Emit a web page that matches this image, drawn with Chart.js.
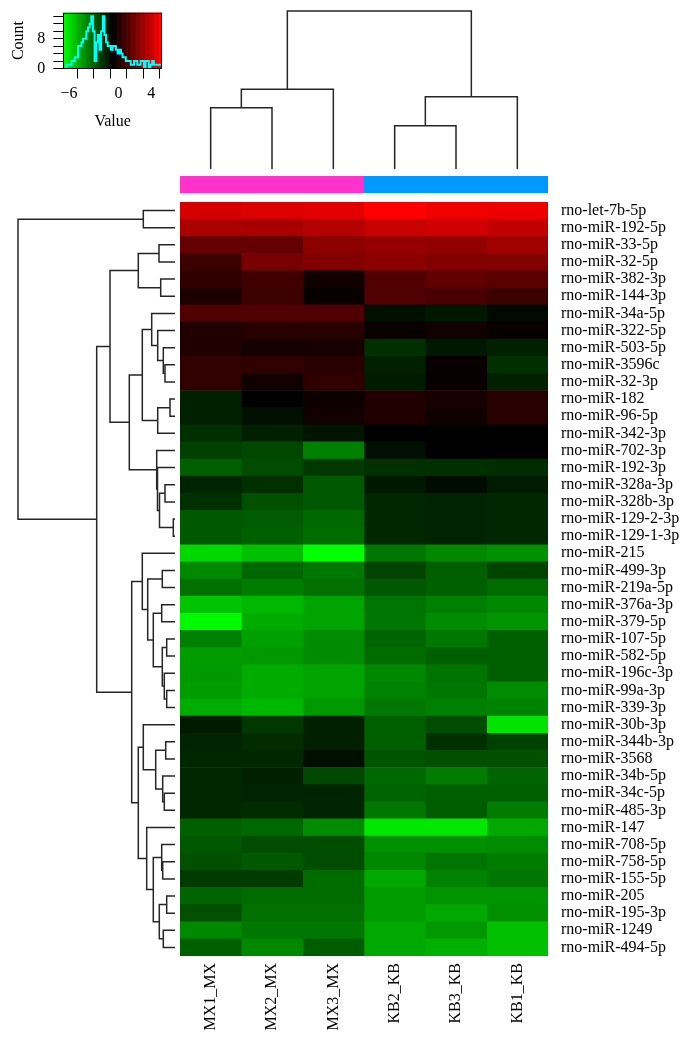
<!DOCTYPE html>
<html><head><meta charset="utf-8">
<script src="https://cdn.jsdelivr.net/npm/chart.js@4.4.1/dist/chart.umd.min.js"></script>
<style>
html,body{margin:0;padding:0;background:#fff;width:694px;height:1040px;overflow:hidden;}
body{position:relative;}
canvas{position:absolute;}
</style></head><body>
<canvas id="key" style="left:0px;top:0px" width="175" height="140"></canvas>
<canvas id="colDendro" style="left:180px;top:0px" width="368" height="176"></canvas>
<canvas id="colBar" style="left:180px;top:176px" width="368" height="17"></canvas>
<canvas id="rowDendro" style="left:0px;top:202px" width="180" height="754"></canvas>
<canvas id="heat" style="left:180px;top:202px" width="514" height="838"></canvas>
<script>
// ---------- data ----------
const columns = ['MX1_MX','MX2_MX','MX3_MX','KB2_KB','KB3_KB','KB1_KB'];
const columnGroups = ['MX','MX','MX','KB','KB','KB'];
const groupColors = {MX:'#FF33CC', KB:'#0099FF'};
const rowLabels = ['rno-let-7b-5p','rno-miR-192-5p','rno-miR-33-5p','rno-miR-32-5p','rno-miR-382-3p','rno-miR-144-3p','rno-miR-34a-5p','rno-miR-322-5p','rno-miR-503-5p','rno-miR-3596c','rno-miR-32-3p','rno-miR-182','rno-miR-96-5p','rno-miR-342-3p','rno-miR-702-3p','rno-miR-192-3p','rno-miR-328a-3p','rno-miR-328b-3p','rno-miR-129-2-3p','rno-miR-129-1-3p','rno-miR-215','rno-miR-499-3p','rno-miR-219a-5p','rno-miR-376a-3p','rno-miR-379-5p','rno-miR-107-5p','rno-miR-582-5p','rno-miR-196c-3p','rno-miR-99a-3p','rno-miR-339-3p','rno-miR-30b-3p','rno-miR-344b-3p','rno-miR-3568','rno-miR-34b-5p','rno-miR-34c-5p','rno-miR-485-3p','rno-miR-147','rno-miR-708-5p','rno-miR-758-5p','rno-miR-155-5p','rno-miR-205','rno-miR-195-3p','rno-miR-1249','rno-miR-494-5p'];

const MX1 = [4.36,3.30,1.65,0.71,0.43,-0.04,1.18,0.05,0.05,0.48,0.43,-1.45,-1.45,-1.83,-2.21,-2.96,-1.55,-1.83,-2.77,-2.77,-5.78,-3.90,-3.34,-5.31,-6.58,-3.71,-4.37,-4.28,-4.37,-4.75,-1.36,-1.55,-1.64,-1.64,-1.64,-1.64,-2.96,-2.77,-2.58,-2.11,-3.05,-2.58,-3.90,-2.96];
const MX2 = [4.48,3.25,1.65,2.12,0.80,0.71,1.18,0.24,-0.23,0.43,-0.32,-0.70,-1.08,-1.45,-2.39,-2.49,-1.83,-2.58,-2.86,-2.96,-5.22,-3.15,-3.62,-5.03,-4.75,-4.46,-4.28,-4.75,-4.75,-5.03,-2.02,-1.74,-1.64,-1.45,-1.55,-1.74,-3.15,-2.49,-2.77,-2.11,-3.24,-3.34,-3.52,-3.90];
const MX3 = [4.62,3.54,2.60,2.36,-0.32,-0.51,1.18,0.24,-0.14,0.24,0.43,-0.42,-0.32,-1.17,-3.71,-2.02,-2.77,-2.77,-3.15,-3.24,-6.70,-3.52,-3.34,-4.56,-4.56,-3.99,-3.99,-4.56,-4.56,-4.28,-1.45,-1.45,-1.08,-2.39,-1.55,-1.55,-3.99,-2.49,-2.49,-3.24,-3.24,-3.34,-3.52,-2.86];
const KB2 = [5.30,4.00,2.83,2.60,1.18,1.18,-1.08,-0.51,-1.83,-1.45,-1.36,0.05,0.05,-0.70,-1.08,-1.83,-1.26,-1.64,-1.64,-1.64,-3.52,-2.30,-2.77,-3.43,-3.52,-3.05,-3.24,-3.90,-3.80,-3.52,-2.96,-2.96,-2.68,-3.15,-3.05,-3.52,-6.16,-4.09,-3.90,-4.65,-4.37,-4.37,-4.65,-4.65];
const KB3 = [4.95,4.20,2.74,2.36,1.56,1.00,-1.26,-0.32,-1.26,-0.51,-0.51,-0.14,-0.32,-0.70,-0.70,-1.83,-0.98,-1.55,-1.55,-1.55,-3.90,-2.96,-2.96,-3.71,-3.99,-3.52,-2.96,-3.43,-3.52,-3.71,-2.49,-1.83,-2.58,-3.62,-2.96,-2.86,-6.16,-4.09,-3.43,-3.80,-4.18,-4.65,-4.28,-4.84];
const KB1 = [4.90,3.90,3.06,2.36,1.42,0.71,-0.89,-0.51,-1.45,-1.83,-1.45,0.24,0.24,-0.70,-0.70,-1.74,-1.36,-1.64,-1.64,-1.64,-4.09,-2.30,-3.24,-3.90,-4.18,-2.96,-2.96,-2.96,-3.99,-3.80,-6.06,-2.21,-2.58,-3.05,-2.96,-3.62,-4.65,-3.99,-3.62,-3.52,-4.18,-4.09,-5.22,-5.22];
const columnValues = [MX1, MX2, MX3, KB2, KB3, KB1];

// column dendrogram merges (hclust style: negative = leaf, positive = earlier merge), height
const colMerges = [[-1,-2,61.3],[1,-3,79.7],[-4,-5,43.3],[3,-6,72.3],[2,4,158]];
// row dendrogram merges
const rowMerges = [
 [-1,-2,31.7],[-3,-4,16],[-5,-6,14.3],[2,3,36.7],[-10,-11,10],[-9,5,11.7],[-8,6,17.3],[-7,7,23.3],
 [-12,-13,5],[9,-14,17.3],[8,10,32.7],[-17,-18,10],[-19,-20,1.7],[12,13,15.5],[-16,14,17.5],[-15,15,18.3],
 [11,16,45.7],[4,17,65],[-22,-23,12.7],[-24,-25,13.3],[-26,-27,8.3],[-29,-30,8.3],[-28,22,10.7],[21,23,12.7],
 [20,24,21.7],[19,25,27.3],[-21,26,32.7],[-32,-33,9.3],[-35,-36,10.7],[-34,29,12.3],[28,30,19.3],[-31,31,31.7],
 [-39,-40,12.3],[-38,33,13.3],[-41,-42,8.3],[-43,-44,11.7],[35,36,15.7],[34,37,21.7],[-37,38,28.3],[32,39,36.7],
 [27,40,43.3],[18,41,78.3],[1,42,157]
];

// colour key
const keyMin = -6.7, keyMid = -0.7, keyMax = 5.3;
const keyTicks = [-6,-4,-2,0,2,4];
const keyTickLabels = {'-6':'\u22126','0':'0','4':'4'};
const countTicks = [0,2,4,6,8,10,12,14];
const countTickLabels = {'0':'0','8':'8'};
const histBinWidth = 0.2;
const histCounts = [0,0,1,1,1,2,2,3,3,6,6,7,8,8,10,11,12,14,10,2,7,9,5,10,14,9,7,6,6,5,6,6,5,4,5,4,3,3,2,2,2,1,1,2,2,1,1,2,2,0,2,2,0,1,2,1,1,1,1,1];

// ---------- helpers ----------
function valueColor(v){
  if (v <= keyMid){
    const t = Math.min(1, (keyMid - v)/(keyMid - keyMin));
    return 'rgb(0,' + Math.round(255*t) + ',0)';
  }
  const t = Math.min(1, (v - keyMid)/(keyMax - keyMid));
  return 'rgb(' + Math.round(255*t) + ',0,0)';
}
function dendroSegments(merges){
  const pos = [], hgt = [], segs = [];
  const node = r => r < 0 ? {p: -r - 1 + 0.5, h: 0} : {p: pos[r-1], h: hgt[r-1]};
  merges.forEach(([a,b,h],k) => {
    const A = node(a), B = node(b);
    pos[k] = (A.p + B.p)/2; hgt[k] = h;
    segs.push([[A.p,A.h],[A.p,h],[B.p,h],[B.p,B.h]]);
  });
  return segs;
}
function fixSize(prop, val){
  return s => { s[prop] = val; s.paddingTop = 0; s.paddingBottom = 0; s.paddingLeft = 0; s.paddingRight = 0; };
}
Chart.defaults.font.family = "'Liberation Serif','DejaVu Serif',serif";
Chart.defaults.font.size = 16;
Chart.defaults.color = '#000';
const base = {responsive:false, animation:false, events:[], maintainAspectRatio:false,
  layout:{padding:0, autoPadding:false}, plugins:{legend:{display:false}, tooltip:{enabled:false}}};
const lineColor = '#262626';

// ---------- colour key ----------
const swatches = [];
for (let v = keyMin + 0.05; v < keyMax; v += 0.1) swatches.push({x: v, y: 15});
const histPts = histCounts.map((c,i) => ({x: keyMin + i*histBinWidth, y: c}));
histPts.push({x: keyMin + histCounts.length*histBinWidth, y: histCounts[histCounts.length-1]});
const framePlugin = {id:'frame', afterDatasetsDraw(chart){
  const a = chart.chartArea, ctx = chart.ctx; ctx.save(); ctx.strokeStyle = '#000'; ctx.lineWidth = 1;
  ctx.strokeRect(Math.round(a.left)+0.5, Math.round(a.top)+0.5, Math.round(a.right-a.left)-1, Math.round(a.bottom-a.top)-1); ctx.restore(); }};
new Chart(document.getElementById('key'), {
  type:'bar',
  data:{datasets:[
    {type:'line', data:histPts, borderColor:'#00FFFF', borderWidth:2, pointRadius:0, stepped:true, order:0},
    {type:'bar', data:swatches, backgroundColor:swatches.map(p=>valueColor(p.x)), borderWidth:0, barPercentage:1, categoryPercentage:1, order:1}
  ]},
  options:Object.assign({}, base, {
    layout:{padding:{top:12.5, right:13, left:0, bottom:0}, autoPadding:false},
    scales:{
      x:{type:'linear', min:keyMin, max:keyMax, offset:false,
        afterBuildTicks:s=>{s.ticks = keyTicks.map(v=>({value:v}));},
        ticks:{autoSkip:false, maxRotation:0, padding:6, callback:v=>keyTickLabels[String(v)] || ''},
        grid:{drawOnChartArea:false, tickLength:10, color:'#000', lineWidth:1}, border:{display:false},
        title:{display:true, text:'Value', padding:{top:0,bottom:9}},
        afterFit:fixSize('height', 71.5)},
      y:{type:'linear', min:0, max:15,
        afterBuildTicks:s=>{s.ticks = countTicks.map(v=>({value:v}));},
        ticks:{autoSkip:false, padding:8, callback:v=>countTickLabels[String(v)] || ''},
        grid:{drawOnChartArea:false, tickLength:10, color:'#000', lineWidth:1}, border:{display:false},
        title:{display:true, text:'Count', padding:{top:9,bottom:0}},
        afterFit:fixSize('width', 63.3)}
    }
  }),
  plugins:[framePlugin]
});

// ---------- column dendrogram ----------
new Chart(document.getElementById('colDendro'), {
  type:'scatter',
  data:{datasets: dendroSegments(colMerges).map(seg=>({data:seg.map(([p,h])=>({x:p,y:h})), showLine:true, pointRadius:0, borderColor:lineColor, borderWidth:1.5, clip:false}))},
  options:Object.assign({}, base, {scales:{
    x:{type:'linear', min:0, max:6, display:false},
    y:{type:'linear', min:-7, max:169, display:false}}})
});

// ---------- column side colours ----------
new Chart(document.getElementById('colBar'), {
  type:'bar',
  data:{labels:columns, datasets:[{data:columns.map(()=>1), backgroundColor:columnGroups.map(g=>groupColors[g]), borderWidth:0, barPercentage:1, categoryPercentage:1}]},
  options:Object.assign({}, base, {scales:{x:{display:false}, y:{display:false, min:0, max:1}}})
});

// ---------- row dendrogram ----------
new Chart(document.getElementById('rowDendro'), {
  type:'scatter',
  data:{datasets: dendroSegments(rowMerges).map(seg=>({data:seg.map(([p,h])=>({x:h,y:p})), showLine:true, pointRadius:0, borderColor:lineColor, borderWidth:1.5, clip:false}))},
  options:Object.assign({}, base, {scales:{
    x:{type:'linear', min:-5, max:175, reverse:true, display:false},
    y:{type:'linear', min:0, max:rowLabels.length, reverse:true, display:false}}})
});

// ---------- heatmap ----------
new Chart(document.getElementById('heat'), {
  type:'bar',
  data:{labels:rowLabels, datasets: columns.map((c,j)=>({
    label:c, data:rowLabels.map(()=>1),
    backgroundColor:columnValues[j].map(valueColor),
    borderWidth:0, barPercentage:1, categoryPercentage:1}))},
  options:Object.assign({}, base, {
    indexAxis:'y',
    scales:{
      x:{type:'linear', stacked:true, min:0, max:columns.length, offset:false, position:'bottom',
        afterBuildTicks:s=>{s.ticks = columns.map((c,j)=>({value:j+0.5}));},
        ticks:{autoSkip:false, minRotation:90, maxRotation:90, padding:7, callback:(v,i)=>columns[i]},
        grid:{display:false, drawTicks:false}, border:{display:false},
        afterFit:fixSize('height', 84)},
      y:{type:'category', stacked:true, position:'right',
        ticks:{autoSkip:false, padding:13},
        grid:{display:false, drawTicks:false}, border:{display:false},
        afterFit:fixSize('width', 146)}
    }
  })
});
</script>
</body></html>
